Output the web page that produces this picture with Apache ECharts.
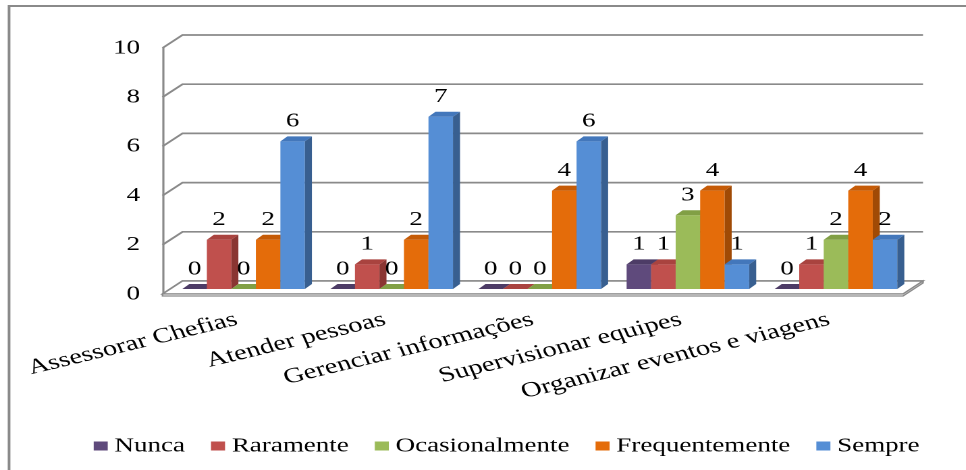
<!DOCTYPE html>
<html>
<head>
<meta charset="utf-8">
<script src="https://cdn.jsdelivr.net/npm/echarts@6/dist/echarts.min.js"></script>
<style>
  html, body { margin: 0; padding: 0; background: #fff; }
  #wrap { width: 966px; height: 470px; overflow: hidden; position: relative; background: #fff; }
  /* the chart is laid out narrow and stretched horizontally */
  #main { width: 715.6px; height: 470px; transform: scaleX(1.35); transform-origin: 0 0; }
</style>
</head>
<body>
<div id="wrap"><div id="main"></div></div>
<script>
// ---- data ----
const categories = ['Assessorar Chefias', 'Atender pessoas', 'Gerenciar informações', 'Supervisionar equipes', 'Organizar eventos e viagens'];
const seriesNames = ['Nunca', 'Raramente', 'Ocasionalmente', 'Frequentemente', 'Sempre'];
const nunca          = [0, 0, 0, 1, 0];
const raramente      = [2, 1, 0, 1, 1];
const ocasionalmente = [0, 0, 0, 3, 2];
const frequentemente = [2, 2, 4, 4, 4];
const sempre         = [6, 7, 6, 1, 2];
const yTicks = [0, 2, 4, 6, 8, 10];

// ---- styling ----
const FONT = "'Liberation Serif', 'Times New Roman', serif";
const FONT_SIZE = 20;
const CAT_FONT_SIZE = 21.2;
const GRID_COLOR = '#8a8a8a';
const faceColors = [
  { front: '#5f4a7c', top: '#4d3c66', side: '#3f3154' },
  { front: '#c0504d', top: '#a9433f', side: '#8a3532' },
  { front: '#9bbb59', top: '#819f45', side: '#6b8637' },
  { front: '#e46c0a', top: '#c55b07', side: '#a04a05' },
  { front: '#558ed5', top: '#4377bb', side: '#385f90' }
];
// depth of the floor/walls and of the bar row (in layout px)
const DEPTH_X = 14.8, DEPTH_Y = -13;
const ROW_X = 5.2, ROW_Y = -5;      // bars sit one third into the floor
const BAR_X = 5.2, BAR_Y = -5;      // thickness of each bar
const BAR_FRAC = 0.1655;            // bar width as a share of a category band

const valuesBySeries = [nunca, raramente, ocasionalmente, frequentemente, sempre];

const chart = echarts.init(document.getElementById('main'), null, { renderer: 'canvas', devicePixelRatio: 2 });

// back wall and left wall gridlines
function renderWall(params, api) {
  const cs = params.coordSys;
  const y = api.coord([0, api.value(1)])[1];
  return {
    type: 'polyline',
    shape: { points: [[cs.x, y], [cs.x + DEPTH_X, y + DEPTH_Y], [cs.x + cs.width + DEPTH_X, y + DEPTH_Y]] },
    style: { stroke: GRID_COLOR, lineWidth: 1.7, fill: null }
  };
}

// floor plate
function renderFloor(params, api) {
  const cs = params.coordSys;
  const y = api.coord([0, api.value(1)])[1];
  const x0 = cs.x, x1 = cs.x + cs.width;
  return {
    type: 'group',
    children: [
      {
        type: 'polygon',
        shape: { points: [[x0, y], [x0 + DEPTH_X, y + DEPTH_Y], [x1 + DEPTH_X, y + DEPTH_Y], [x1, y]] },
        style: { fill: '#ffffff', stroke: GRID_COLOR, lineWidth: 1.4 }
      },
      {
        type: 'polygon',
        shape: { points: [[x0, y], [x1, y], [x1 + DEPTH_X, y + DEPTH_Y], [x1 + DEPTH_X, y + DEPTH_Y + 2], [x1, y + 2], [x0, y + 2]] },
        style: { fill: '#ffffff', stroke: GRID_COLOR, lineWidth: 1.2 }
      }
    ]
  };
}

function makeBarRenderer(k) {
  const c = faceColors[k];
  return function (params, api) {
    const ci = api.value(0), v = api.value(1);
    const base = api.coord([ci, 0]);
    const top = api.coord([ci, v]);
    const band = api.size([1, 0])[0];
    const bw = band * BAR_FRAC;
    const x0 = base[0] - 2.5 * bw + k * bw + ROW_X;
    const yb = base[1] + ROW_Y;
    const yt = top[1] + ROW_Y;
    const children = [];
    if (yb - yt > 0.5) {
      children.push({ type: 'rect', shape: { x: x0, y: yt, width: bw, height: yb - yt }, style: { fill: c.front } });
      children.push({
        type: 'polygon',
        shape: { points: [[x0 + bw, yt], [x0 + bw + BAR_X, yt + BAR_Y], [x0 + bw + BAR_X, yb + BAR_Y], [x0 + bw, yb]] },
        style: { fill: c.side }
      });
    }
    children.push({
      type: 'polygon',
      shape: { points: [[x0, yt], [x0 + BAR_X, yt + BAR_Y], [x0 + bw + BAR_X, yt + BAR_Y], [x0 + bw, yt]] },
      style: { fill: c.top }
    });
    children.push({
      type: 'text',
      z2: 100,
      style: {
        x: x0 + bw / 2, y: yt - 20, text: String(v),
        align: 'center', verticalAlign: 'middle',
        fill: '#000', fontSize: FONT_SIZE, fontFamily: FONT
      }
    });
    return { type: 'group', children };
  };
}

const series = [
  {
    type: 'custom', name: 'walls', silent: true,
    data: yTicks.map(v => [0, v]), encode: { x: 0, y: 1 },
    renderItem: renderWall
  },
  {
    type: 'custom', name: 'floor', silent: true,
    data: [[0, yTicks[0]]], encode: { x: 0, y: 1 },
    renderItem: renderFloor
  }
];
seriesNames.forEach((name, k) => {
  series.push({
    type: 'custom', name: name, silent: true,
    itemStyle: { color: faceColors[k].front },
    data: valuesBySeries[k].map((v, i) => [i, v]),
    encode: { x: 0, y: 1 },
    renderItem: makeBarRenderer(k)
  });
});

chart.setOption({
  animation: false,
  backgroundColor: '#ffffff',
  graphic: [{
    type: 'rect', silent: true,
    shape: { x: 6.7, y: 6, width: 1000, height: 1000 },
    style: { fill: null, stroke: '#8a8a8a', lineWidth: 2 }
  }],
  grid: { left: 120.4, right: 47.1, top: 48, bottom: 176 },
  xAxis: {
    type: 'category', data: categories,
    axisLine: { show: false }, axisTick: { show: false },
    axisLabel: { interval: 0, rotate: 18, margin: 25, fontSize: CAT_FONT_SIZE, fontFamily: FONT, color: '#000' }
  },
  yAxis: {
    type: 'value', min: 0, max: 10, interval: 2,
    axisLine: { show: true, lineStyle: { color: GRID_COLOR, width: 1.6 } },
    axisTick: { show: false }, splitLine: { show: false },
    axisLabel: { margin: 16.7, fontSize: FONT_SIZE, fontFamily: FONT, color: '#000' }
  },
  legend: {
    data: seriesNames, left: 64.4, top: 431,
    icon: 'rect', itemWidth: 10.4, itemHeight: 9, itemGap: 19.3,
    textStyle: { fontSize: FONT_SIZE, fontFamily: FONT, color: '#000' },
    selectedMode: false
  },
  series: series
});
</script>
</body>
</html>
